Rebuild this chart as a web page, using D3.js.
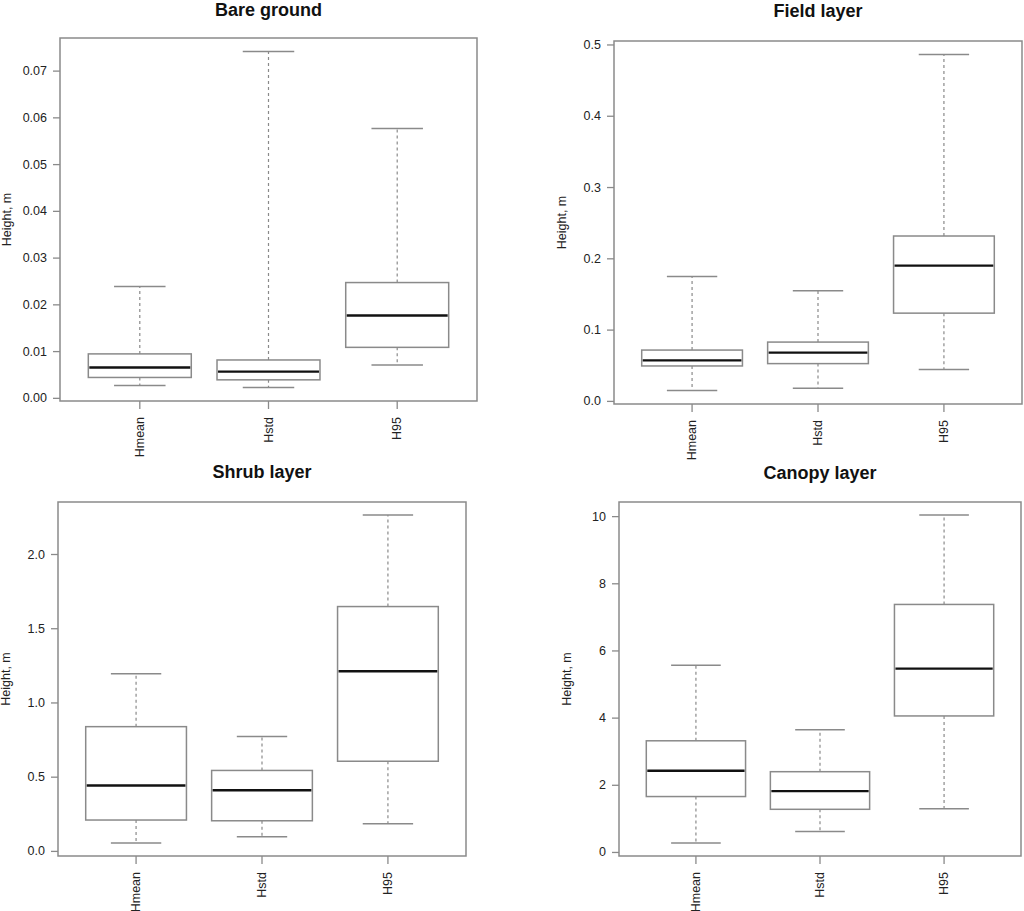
<!DOCTYPE html>
<html>
<head>
<meta charset="utf-8">
<script src="https://cdn.jsdelivr.net/npm/d3@7"></script>
<style>
  html, body { margin: 0; padding: 0; background: #fff; }
  svg { display: block; }
  text { font-family: "Liberation Sans", Arial, sans-serif; }
</style>
</head>
<body>
<svg id="chart" width="1024" height="911"></svg>
<script>
// ---- data ----
const categories = ["Hmean", "Hstd", "H95"];
const panelTitles = ["Bare ground", "Field layer", "Shrub layer", "Canopy layer"];
// each stat: [lower whisker, Q1, median, Q3, upper whisker] per category
const bareGround = [
  [0.00265, 0.00436, 0.0065, 0.0094, 0.0238],
  [0.0022, 0.00385, 0.0056, 0.0081, 0.0741],
  [0.0070, 0.0108, 0.0176, 0.02466, 0.0576]
];
const fieldLayer = [
  [0.0145, 0.049, 0.0569, 0.0713, 0.1744],
  [0.0178, 0.0523, 0.0677, 0.0825, 0.1544],
  [0.0439, 0.1231, 0.1898, 0.2313, 0.486]
];
const shrubLayer = [
  [0.054, 0.208, 0.441, 0.837, 1.193],
  [0.096, 0.203, 0.409, 0.542, 0.770],
  [0.183, 0.604, 1.210, 1.646, 2.262]
];
const canopyLayer = [
  [0.27, 1.65, 2.42, 3.31, 5.56],
  [0.61, 1.27, 1.81, 2.39, 3.64],
  [1.29, 4.05, 5.46, 7.37, 10.03]
];
const tickValues = [
  [0, 0.01, 0.02, 0.03, 0.04, 0.05, 0.06, 0.07],
  [0, 0.1, 0.2, 0.3, 0.4, 0.5],
  [0, 0.5, 1.0, 1.5, 2.0],
  [0, 2, 4, 6, 8, 10]
];
const tickFormats = [".2f", ".1f", ".1f", "d"];
const yLabel = "Height, m";

// ---- layout (pixel plot rectangles) ----
const layouts = [
  { l: 60,  r: 477,  t: 38,  b: 401, titleY: 16, ylx: 8 },
  { l: 614, r: 1022, t: 41,  b: 404, titleY: 17, ylx: 563 },
  { l: 58,  r: 466,  t: 502, b: 856, titleY: 478, ylx: 7 },
  { l: 619, r: 1021, t: 502, b: 856, titleY: 479, ylx: 568 }
];
const datasets = [bareGround, fieldLayer, shrubLayer, canopyLayer];

const svg = d3.select("#chart");
const axisColor = "#8a8a8a";
const textColor = "#222";

datasets.forEach((data, i) => {
  const L = layouts[i];
  const g = svg.append("g");
  const allVals = data.flat();
  const lo = d3.min(allVals), hi = d3.max(allVals);
  const pad = (hi - lo) * 0.04;
  const y = d3.scaleLinear().domain([lo - pad, hi + pad]).range([L.b, L.t]);
  const n = categories.length;
  const mid = (n + 1) / 2;
  const half = 1.62;
  const xr = d3.scaleLinear().domain([mid - half, mid + half]).range([L.l, L.r]);
  const unit = xr(2) - xr(1);
  const boxW = unit * 0.8;
  const capW = boxW / 2;

  // plot frame
  g.append("rect").attr("x", L.l).attr("y", L.t)
    .attr("width", L.r - L.l).attr("height", L.b - L.t)
    .attr("fill", "none").attr("stroke", axisColor).attr("stroke-width", 1.5);

  // y axis
  const yAxis = d3.axisLeft(y).tickValues(tickValues[i])
    .tickFormat(d3.format(tickFormats[i])).tickSize(7).tickPadding(6);
  const ya = g.append("g").attr("transform", `translate(${L.l},0)`).call(yAxis);
  ya.select(".domain").remove();
  ya.selectAll(".tick line").attr("stroke", axisColor).attr("stroke-width", 1.3);
  ya.selectAll(".tick text").attr("fill", textColor).style("font-size", "12.5px")
    .style("font-family", "'Liberation Sans', Arial, sans-serif");

  // x axis
  const xa = g.append("g").attr("transform", `translate(0,${L.b})`);
  categories.forEach((c, k) => {
    const cx = xr(k + 1);
    xa.append("line").attr("x1", cx).attr("x2", cx).attr("y1", 0).attr("y2", 8)
      .attr("stroke", axisColor).attr("stroke-width", 1.3);
    xa.append("text").attr("transform", `translate(${cx + 4},${16}) rotate(-90)`)
      .attr("text-anchor", "end").attr("fill", textColor)
      .style("font-size", "12.5px").text(c);
  });

  // boxes
  data.forEach((s, k) => {
    const cx = xr(k + 1);
    const [wl, q1, med, q3, wh] = s;
    // whiskers (dashed)
    g.append("line").attr("x1", cx).attr("x2", cx).attr("y1", y(q3)).attr("y2", y(wh))
      .attr("stroke", axisColor).attr("stroke-width", 1.2).attr("stroke-dasharray", "3,3");
    g.append("line").attr("x1", cx).attr("x2", cx).attr("y1", y(q1)).attr("y2", y(wl))
      .attr("stroke", axisColor).attr("stroke-width", 1.2).attr("stroke-dasharray", "3,3");
    // caps
    [wl, wh].forEach(v => {
      g.append("line").attr("x1", cx - capW / 2).attr("x2", cx + capW / 2)
        .attr("y1", y(v)).attr("y2", y(v))
        .attr("stroke", axisColor).attr("stroke-width", 1.5);
    });
    // box
    g.append("rect").attr("x", cx - boxW / 2).attr("y", y(q3))
      .attr("width", boxW).attr("height", y(q1) - y(q3))
      .attr("fill", "#fff").attr("stroke", axisColor).attr("stroke-width", 1.5);
    // median
    g.append("line").attr("x1", cx - boxW / 2 + 1).attr("x2", cx + boxW / 2 - 1)
      .attr("y1", y(med)).attr("y2", y(med))
      .attr("stroke", "#111").attr("stroke-width", 2.4);
  });

  // title
  g.append("text").attr("x", (L.l + L.r) / 2).attr("y", L.titleY)
    .attr("text-anchor", "middle").attr("fill", "#111")
    .style("font-size", "18px").style("font-weight", "bold").text(panelTitles[i]);

  // y label
  g.append("text")
    .attr("transform", `translate(${L.ylx},${(L.t + L.b) / 2}) rotate(-90)`)
    .attr("text-anchor", "middle").attr("dominant-baseline", "middle")
    .attr("fill", textColor).style("font-size", "12.5px").text(yLabel);
});
</script>
</body>
</html>
